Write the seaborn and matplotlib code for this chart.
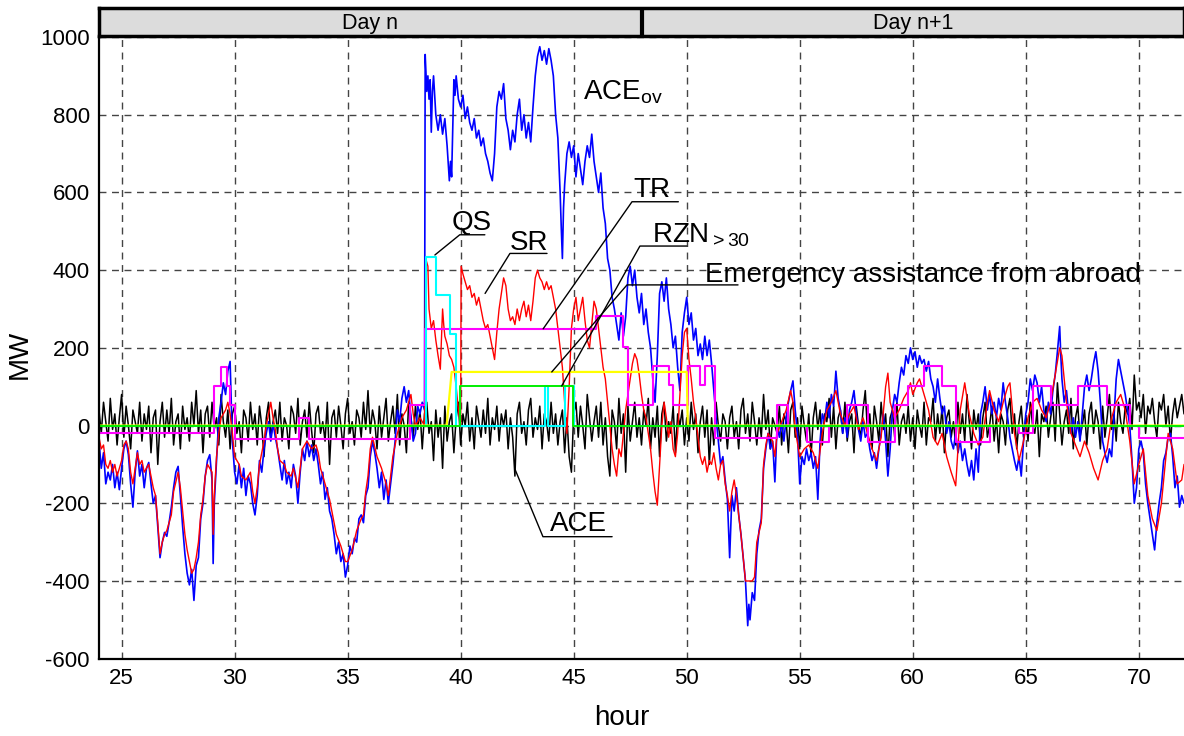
import numpy as np
import pandas as pd
import seaborn as sns
import matplotlib
matplotlib.use("Agg")
import matplotlib.pyplot as plt

# ---------------- data (hour, MW) ----------------

# ACE (black), one value every 0.1 h from hour 24 to 72
ace_mw = [
    40, -20, 60, 10, -40, 70, -10, 30, -50, 20, 80, -30, 50, 0, -60, 40, 10, -20, 60, -40,
    30, -10, 50, -70, 20, 40, -100, 10, 60, -30, 40, -20, 70, -50, 10, 30, -60, 50, -10, 20,
    -40, 60, 0, 90, -20, 40, -70, 30, 50, -30, 60, -10, 20, -50, 80, 10, -30, 40, -60, 30,
    50, -20, 10, -70, 40, 20, -40, 60, -10, 30, -50, 50, 0, -80, 20, 60, -30, 10, 40, -20,
    60, -40, 20, 0, -60, 50, 30, -20, 70, -50, 10, 40, -30, 60, -10, -70, 30, 50, -20, 10,
    -40, 60, -100, 20, 40, -30, 50, 0, -60, 30, 70, -20, 10, -50, 40, 20, -30, 60, -10, 90,
    -20, 40, 10, -60, 50, -30, 20, 70, -40, 10, 50, -20, 80, -50, 30, 0, -70, 60, 20, -30,
    50, -10, 40, -60, 30, 60, -20, 10, -90, 40, -30, 20, -110, 50, -40, 10, 30, -70, 20, 60,
    -50, 30, 0, 60, -40, 20, -60, 50, 10, -30, 40, -20, 70, -50, 20, -10, 50, -40, 30, 0,
    40, -60, 20, -30, -130, 30, 60, -20, 10, -50, 40, 70, -30, 20, -10, 50, -60, 30, 10, -40,
    60, -20, 30, -50, 10, 40, -70, 20, -80, -120, 30, 60, -30, 50, 0, -60, 80, 20, -40, 10,
    50, -30, 60, -50, 20, -80, -130, 40, 10, -60, 70, -20, 30, -120, 50, -40, 10, 60, -30, 20,
    -50, 40, 0, 70, -60, 20, -30, 50, -80, 30, 60, -40, 10, -20, 50, -70, 30, 0, 40, -50,
    20, -40, 60, -10, 30, -70, 10, 50, -30, 40, -100, 20, -50, 60, 0, -40, 30, 10, -60, 20,
    50, -30, 10, -60, 40, 70, -20, 30, -40, 60, 10, -50, 20, -30, 80, -10, 40, -60, 20, 0,
    -20, 50, -50, 30, 10, -70, 40, 60, -30, 20, -60, 50, 0, -40, 30, -80, 20, 60, -10, 40,
    -50, 30, 10, 70, -30, 50, -60, 20, 40, -20, 60, -40, 10, 30, -70, 50, 0, -30, 40, 90,
    -20, 30, -60, 50, 10, -40, 60, -10, 30, -80, 20, 40, -30, 60, -50, 10, 30, -20, 50, -40,
    20, -60, 40, 0, -30, 60, -50, 20, 10, 70, -40, 30, -20, 50, -70, 20, 40, -30, 10, -50,
    60, -20, 30, -40, 80, 10, -60, 40, -10, 30, -50, 20, 60, -30, 0, 50, -40, 20, -70, 30,
    10, -50, 40, 70, -20, 30, -60, 10, 50, -30, 20, -40, 60, 0, -20, 40, -80, 30, 10, 50,
    -30, 20, 60, -40, 110, 30, -50, 10, 40, -20, 70, -60, 20, 50, -30, 0, 40, -50, 30, 60,
    -20, 40, 10, -60, 50, -30, 20, 80, -10, 30, -40, 60, 10, -20, 50, 30, 70, -10, 130, 40,
    60, 20, 80, -20, 50, 30, 70, 10, -30, 60, 40, 80, 0, 50, -40, 30, 70, 20, 50, 80, 30,
]
ace_hour = np.round(np.linspace(24, 72, len(ace_mw)), 2)

# ACE_ov (blue)
ace_ov = [
    (24.0, -40), (24.1, -110), (24.2, -70), (24.3, -150), (24.4, -120), (24.5, -140), (24.6, -100),
    (24.7, -160), (24.8, -120), (24.9, -165), (25.0, -110), (25.1, -60), (25.2, -40), (25.3, -75),
    (25.4, -150), (25.5, -210), (25.6, -120), (25.7, -65), (25.8, -130), (25.9, -100), (26.0, -160),
    (26.1, -110), (26.2, -95), (26.3, -150), (26.4, -200), (26.5, -180), (26.6, -260), (26.7, -340),
    (26.8, -300), (26.9, -275), (27.0, -285), (27.1, -250), (27.2, -210), (27.3, -160), (27.4, -120),
    (27.5, -105), (27.6, -180), (27.7, -260), (27.8, -330), (27.9, -380), (28.0, -410), (28.1, -370),
    (28.2, -450), (28.3, -360), (28.4, -340), (28.5, -240), (28.6, -200), (28.7, -130), (28.8, -90),
    (28.9, -75), (29.0, -140), (29.05, -355), (29.1, -200), (29.2, -90), (29.3, 20), (29.4, 60),
    (29.5, 110), (29.6, 80), (29.7, 140), (29.8, 165), (29.85, 60), (29.9, -40), (30.0, -120),
    (30.1, -150), (30.2, -100), (30.3, -160), (30.4, -110), (30.5, -180), (30.6, -130), (30.7, -150),
    (30.8, -200), (30.9, -230), (31.0, -180), (31.1, -90), (31.2, -120), (31.3, -60), (31.4, -20),
    (31.5, 10), (31.6, -40), (31.7, 5), (31.8, -30), (31.9, -60), (32.0, -100), (32.1, -140),
    (32.2, -90), (32.3, -150), (32.4, -120), (32.5, -160), (32.6, -100), (32.7, -130), (32.8, -200),
    (32.9, -120), (33.0, -60), (33.1, -90), (33.2, -40), (33.3, -80), (33.4, -50), (33.5, -90),
    (33.6, -60), (33.7, -100), (33.8, -150), (33.9, -120), (34.0, -190), (34.1, -160), (34.2, -220),
    (34.3, -240), (34.4, -280), (34.5, -330), (34.6, -300), (34.7, -350), (34.8, -330), (34.9, -390),
    (35.0, -360), (35.1, -310), (35.2, -330), (35.3, -290), (35.4, -300), (35.5, -240), (35.6, -230),
    (35.7, -250), (35.8, -180), (35.9, -160), (36.0, -80), (36.1, -40), (36.2, -70), (36.3, -110),
    (36.4, -160), (36.5, -120), (36.6, -190), (36.7, -140), (36.8, -200), (36.9, -150), (37.0, -100),
    (37.1, -40), (37.2, 40), (37.3, 10), (37.4, 70), (37.5, 100), (37.6, 60), (37.7, 90), (37.8, 20),
    (37.9, -40), (38.0, -20), (38.1, 50), (38.2, 30), (38.3, 60), (38.4, 40), (38.43, 955),
    (38.5, 860), (38.55, 900), (38.6, 840), (38.65, 890), (38.7, 755), (38.75, 860), (38.8, 900),
    (38.85, 850), (38.9, 800), (39.0, 760), (39.1, 800), (39.2, 750), (39.3, 790), (39.4, 720),
    (39.5, 630), (39.55, 680), (39.6, 640), (39.7, 890), (39.75, 850), (39.8, 900), (39.9, 840),
    (40.0, 820), (40.1, 850), (40.2, 790), (40.3, 820), (40.4, 780), (40.5, 760), (40.6, 790),
    (40.7, 740), (40.8, 760), (40.9, 720), (41.0, 740), (41.1, 700), (41.2, 680), (41.3, 650),
    (41.4, 630), (41.5, 700), (41.6, 820), (41.7, 860), (41.8, 840), (41.9, 880), (42.0, 790),
    (42.1, 760), (42.2, 710), (42.3, 760), (42.4, 730), (42.5, 800), (42.6, 840), (42.7, 760),
    (42.8, 800), (42.9, 740), (43.0, 780), (43.1, 730), (43.2, 820), (43.3, 900), (43.4, 950),
    (43.5, 975), (43.6, 940), (43.7, 965), (43.8, 930), (43.9, 970), (44.0, 940), (44.1, 900),
    (44.2, 800), (44.3, 740), (44.4, 600), (44.45, 510), (44.5, 430), (44.55, 560), (44.6, 620),
    (44.7, 700), (44.8, 730), (44.9, 690), (45.0, 720), (45.1, 640), (45.2, 700), (45.3, 660),
    (45.4, 620), (45.5, 680), (45.6, 720), (45.7, 690), (45.8, 750), (45.9, 680), (46.0, 640),
    (46.1, 600), (46.2, 650), (46.3, 560), (46.4, 520), (46.5, 430), (46.6, 400), (46.7, 330),
    (46.8, 300), (46.9, 260), (47.0, 220), (47.1, 290), (47.2, 230), (47.3, 280), (47.4, 380),
    (47.5, 410), (47.6, 360), (47.7, 400), (47.8, 330), (47.9, 290), (48.0, 340), (48.1, 260),
    (48.2, 300), (48.3, 240), (48.4, 200), (48.5, 120), (48.6, 60), (48.7, 180), (48.8, 340),
    (48.9, 370), (49.0, 320), (49.1, 380), (49.2, 300), (49.3, 260), (49.4, 200), (49.5, 230),
    (49.6, 150), (49.7, 90), (49.8, 240), (49.9, 290), (50.0, 330), (50.1, 260), (50.2, 290),
    (50.3, 220), (50.4, 250), (50.5, 180), (50.6, 210), (50.7, 170), (50.8, 230), (50.9, 180),
    (51.0, 220), (51.1, 160), (51.2, 90), (51.3, 20), (51.4, -40), (51.5, -100), (51.6, -80),
    (51.7, -140), (51.8, -190), (51.9, -340), (52.0, -180), (52.1, -220), (52.2, -160), (52.3, -230),
    (52.4, -280), (52.5, -340), (52.6, -400), (52.7, -515), (52.75, -460), (52.8, -500), (52.9, -430),
    (53.0, -450), (53.1, -330), (53.2, -270), (53.3, -240), (53.4, -110), (53.5, -60), (53.6, -20),
    (53.7, -60), (53.8, -40), (53.9, -145), (54.0, 0), (54.1, -30), (54.2, 10), (54.3, -40),
    (54.4, 20), (54.5, 60), (54.6, 90), (54.7, 115), (54.8, 40), (54.9, -20), (55.0, -150),
    (55.1, -80), (55.2, -100), (55.3, -60), (55.4, -90), (55.5, -70), (55.6, -110), (55.7, -80),
    (55.8, -190), (55.9, -40), (56.0, 30), (56.1, 10), (56.2, 60), (56.3, 20), (56.4, 80),
    (56.5, 50), (56.6, 140), (56.7, 70), (56.8, 40), (56.9, -20), (57.0, 20), (57.1, -30),
    (57.2, 40), (57.3, 60), (57.4, 90), (57.5, 30), (57.6, -10), (57.7, -40), (57.8, 10),
    (57.9, -30), (58.0, -20), (58.1, -60), (58.2, -90), (58.3, -70), (58.4, -110), (58.5, -60),
    (58.6, -20), (58.7, 30), (58.8, -40), (58.9, -130), (59.0, -60), (59.1, 40), (59.2, 80),
    (59.3, 60), (59.4, 110), (59.5, 150), (59.6, 130), (59.7, 180), (59.8, 160), (59.9, 200),
    (60.0, 170), (60.1, 190), (60.2, 150), (60.3, 180), (60.4, 160), (60.5, 170), (60.6, 140),
    (60.7, 165), (60.8, 120), (60.9, 100), (61.0, 60), (61.1, 120), (61.2, 70), (61.3, 30),
    (61.4, 50), (61.5, -20), (61.6, 10), (61.7, -40), (61.8, -60), (61.9, -20), (62.0, -70),
    (62.1, -40), (62.2, -90), (62.3, -60), (62.4, -100), (62.5, -130), (62.6, -90), (62.7, -140),
    (62.8, -60), (62.9, -120), (63.0, 30), (63.1, 60), (63.2, 100), (63.3, 40), (63.4, 80),
    (63.5, 30), (63.6, 60), (63.7, 20), (63.8, 70), (63.9, 40), (64.0, 110), (64.1, 60),
    (64.2, 20), (64.3, -30), (64.4, -60), (64.5, -90), (64.6, -115), (64.7, -80), (64.8, -130),
    (64.9, -40), (65.0, 30), (65.1, 60), (65.2, 120), (65.3, 90), (65.4, 130), (65.5, 110),
    (65.6, 60), (65.7, 100), (65.8, 40), (65.9, 10), (66.0, 60), (66.1, 30), (66.2, 90),
    (66.3, 130), (66.4, 190), (66.5, 255), (66.55, 180), (66.6, 120), (66.7, 60), (66.8, 90),
    (66.9, 30), (67.0, -20), (67.1, 20), (67.2, -30), (67.3, 10), (67.4, -40), (67.5, 30),
    (67.6, 100), (67.7, 130), (67.8, 90), (67.9, 120), (68.0, 160), (68.1, 190), (68.2, 140),
    (68.3, 60), (68.4, -40), (68.5, -70), (68.6, -95), (68.7, -60), (68.8, -80), (68.9, 20),
    (69.0, 120), (69.1, 170), (69.2, 140), (69.3, 110), (69.4, 80), (69.5, 40), (69.6, 0),
    (69.7, -90), (69.8, -200), (69.9, -160), (70.0, -60), (70.1, -40), (70.2, -70), (70.3, -150),
    (70.4, -200), (70.5, -240), (70.6, -280), (70.7, -320), (70.8, -250), (70.9, -200), (71.0, -160),
    (71.1, -90), (71.2, -70), (71.3, -30), (71.4, -20), (71.5, -80), (71.6, -160), (71.7, -130),
    (71.8, -210), (71.9, -180), (72.0, -200),
]

# SR (red)
sr = [
    (24.0, -30), (24.1, -60), (24.2, -50), (24.3, -100), (24.4, -110), (24.5, -90), (24.6, -120),
    (24.7, -100), (24.8, -130), (24.9, -110), (25.0, -90), (25.1, -50), (25.2, -40), (25.3, -60),
    (25.4, -120), (25.5, -150), (25.6, -110), (25.7, -70), (25.8, -100), (25.9, -90), (26.0, -120),
    (26.2, -100), (26.3, -130), (26.4, -160), (26.5, -180), (26.6, -250), (26.7, -330), (26.8, -300),
    (26.9, -280), (27.0, -270), (27.2, -230), (27.3, -170), (27.5, -120), (27.6, -160), (27.7, -220),
    (27.8, -280), (27.9, -320), (28.0, -350), (28.1, -380), (28.2, -370), (28.3, -340), (28.4, -300),
    (28.5, -230), (28.6, -190), (28.7, -130), (28.8, -100), (29.0, -120), (29.05, -280), (29.1, -180),
    (29.2, -80), (29.3, -20), (29.4, 20), (29.6, 40), (29.7, 60), (29.8, 30), (29.9, -20),
    (30.0, -80), (30.2, -100), (30.3, -130), (30.5, -140), (30.7, -120), (30.8, -170), (30.9, -200),
    (31.0, -160), (31.1, -100), (31.3, -40), (31.4, 0), (31.5, 30), (31.6, 60), (31.7, 20),
    (31.8, -10), (31.9, -60), (32.0, -90), (32.2, -100), (32.3, -120), (32.5, -130), (32.6, -110),
    (32.8, -160), (32.9, -110), (33.0, -60), (33.2, -40), (33.4, -60), (33.6, -50), (33.7, -70),
    (33.8, -110), (34.0, -150), (34.2, -190), (34.3, -220), (34.5, -280), (34.7, -310), (34.9, -350),
    (35.0, -350), (35.2, -320), (35.4, -270), (35.6, -240), (35.7, -230), (35.8, -170), (35.9, -130),
    (36.0, -60), (36.1, -30), (36.3, -80), (36.5, -110), (36.7, -150), (36.8, -180), (36.9, -130),
    (37.0, -80), (37.2, -20), (37.4, 20), (37.6, 40), (37.8, 80), (37.9, 30), (38.0, 0),
    (38.2, 20), (38.4, 0), (38.45, 430), (38.55, 410), (38.6, 300), (38.7, 250), (38.8, 270),
    (38.9, 220), (39.0, 180), (39.1, 145), (39.2, 300), (39.25, 260), (39.3, 230), (39.4, 210),
    (39.5, 180), (39.6, 170), (39.7, 150), (39.8, 100), (39.9, 40), (40.0, 0), (40.02, 410),
    (40.1, 390), (40.2, 370), (40.3, 350), (40.4, 360), (40.5, 330), (40.6, 340), (40.7, 310),
    (40.8, 330), (40.9, 300), (41.0, 270), (41.1, 250), (41.2, 260), (41.3, 230), (41.4, 200),
    (41.5, 170), (41.6, 240), (41.7, 300), (41.8, 340), (41.9, 380), (42.0, 360), (42.1, 300),
    (42.2, 270), (42.3, 280), (42.4, 260), (42.5, 300), (42.6, 270), (42.7, 300), (42.8, 320),
    (42.9, 280), (43.0, 310), (43.1, 270), (43.2, 320), (43.3, 380), (43.4, 400), (43.5, 380),
    (43.6, 370), (43.7, 350), (43.8, 370), (43.9, 350), (44.0, 360), (44.1, 330), (44.2, 300),
    (44.3, 250), (44.4, 200), (44.5, 150), (44.6, 60), (44.7, -20), (44.8, 100), (44.9, 250),
    (45.0, 300), (45.1, 330), (45.2, 270), (45.3, 300), (45.4, 330), (45.5, 270), (45.6, 220),
    (45.7, 200), (45.8, 260), (45.9, 320), (46.0, 300), (46.1, 250), (46.2, 200), (46.3, 150),
    (46.4, 120), (46.5, 60), (46.6, 0), (46.7, -60), (46.8, -100), (46.9, -130), (47.0, -60),
    (47.1, -80), (47.2, -20), (47.3, 40), (47.4, 80), (47.5, 120), (47.6, 160), (47.7, 185),
    (47.8, 170), (47.9, 130), (48.0, 80), (48.1, 40), (48.2, 20), (48.3, -20), (48.4, -60),
    (48.5, -120), (48.6, -170), (48.7, -205), (48.8, -100), (48.9, 0), (49.0, 60), (49.1, 20),
    (49.2, -30), (49.3, 10), (49.4, -60), (49.5, -80), (49.6, -20), (49.7, 80), (49.8, 180),
    (49.9, 240), (50.0, 250), (50.1, 170), (50.2, 120), (50.3, 60), (50.4, 20), (50.5, -30),
    (50.6, -80), (50.7, -100), (50.8, -80), (50.9, -120), (51.0, -90), (51.1, -100), (51.2, -70),
    (51.3, -110), (51.4, -140), (51.5, -100), (51.6, -90), (51.7, -150), (51.8, -180), (51.9, -220),
    (52.0, -170), (52.1, -140), (52.2, -180), (52.3, -230), (52.4, -280), (52.5, -340), (52.6, -400),
    (52.9, -400), (53.0, -390), (53.1, -300), (53.3, -250), (53.4, -100), (53.5, -50), (53.6, -20),
    (53.8, -40), (53.9, -80), (54.0, -20), (54.2, 10), (54.4, 40), (54.6, 90), (54.7, 60),
    (54.8, -10), (55.0, -80), (55.2, -60), (55.4, -50), (55.6, -70), (55.8, -110), (56.0, -20),
    (56.2, 40), (56.4, 60), (56.6, 90), (56.8, 30), (57.0, 0), (57.2, 30), (57.4, 50),
    (57.6, -10), (57.8, 20), (58.0, -20), (58.2, -60), (58.4, -90), (58.6, -30), (58.8, 100),
    (58.9, 135), (59.0, 60), (59.2, 20), (59.4, 40), (59.6, 70), (59.8, 90), (59.9, 110),
    (60.0, 80), (60.2, 110), (60.3, 120), (60.5, 80), (60.7, 40), (60.9, -30), (61.1, -50),
    (61.3, -20), (61.5, -80), (61.7, -120), (61.9, -155), (62.0, -60), (62.1, 40), (62.3, 110),
    (62.5, 30), (62.7, -20), (62.9, -50), (63.1, -30), (63.3, 60), (63.4, 90), (63.6, 40),
    (63.8, 10), (64.0, 60), (64.2, 100), (64.3, 110), (64.5, -20), (64.7, -90), (64.9, -40),
    (65.1, 20), (65.3, 60), (65.5, 70), (65.7, 40), (65.9, 20), (66.1, 60), (66.3, 130),
    (66.5, 200), (66.6, 180), (66.8, 60), (67.0, -20), (67.2, -50), (67.4, -80), (67.6, -40),
    (67.8, -70), (68.0, -110), (68.2, -140), (68.4, -90), (68.6, -60), (68.8, 20), (69.0, 60),
    (69.2, 80), (69.4, 40), (69.6, -40), (69.8, -150), (70.0, -100), (70.2, -60), (70.4, -180),
    (70.6, -240), (70.8, -270), (71.0, -200), (71.2, -80), (71.3, -20), (71.5, -60), (71.7, -150),
    (71.9, -140), (72.0, -100),
]

# TR (magenta), step starts
tr_steps = [
    (24.0, -20), (29.1, 103), (29.4, 152), (29.65, 103), (29.8, 53), (30.0, -35), (32.85, 20),
    (33.3, -35), (37.75, 53), (38.43, 249), (46.0, 282), (47.2, 203), (47.4, 53), (48.5, 153),
    (49.2, 105), (49.4, 53), (50.05, 153), (50.6, 105), (50.8, 153), (51.25, -32), (54.0, 53),
    (54.5, 0), (55.3, -42), (56.3, 0), (57.1, 53), (58.0, -42), (59.2, 53), (59.8, 103),
    (60.5, 153), (61.3, 103), (61.9, -42), (63.4, 0), (64.7, -20), (65.3, 103), (66.1, 53),
    (67.3, 103), (68.6, 53), (69.6, 0), (70.0, -32), (72.0, -32),
]

# QS (cyan), step starts
qs_steps = [
    (24.0, 0), (38.45, 435), (38.9, 336), (39.55, 236), (39.8, 0), (43.75, 102), (43.85, 0),
    (44.6, 102), (45.0, 0), (72.0, 0),
]

# Emergency assistance from abroad (yellow)
emergency = [(24.0, 0), (39.38, 0), (39.6, 138), (50.0, 138), (50.05, 0), (72.0, 0)]

# RZN>30 (green)
rzn = [(24.0, 0), (39.96, 0), (39.96, 102), (44.97, 102), (44.97, 0), (72.0, 0)]

hour_ticks = [25, 30, 35, 40, 45, 50, 55, 60, 65, 70]
mw_ticks = [-600, -400, -200, 0, 200, 400, 600, 800, 1000]

# ---------------- style ----------------
sns.set_style("white")
plt.rcParams['font.family'] = ['Liberation Sans', 'DejaVu Sans']
plt.rcParams['mathtext.fontset'] = 'custom'
plt.rcParams['mathtext.rm'] = 'Liberation Sans'
plt.rcParams['mathtext.it'] = 'Liberation Sans:italic'
plt.rcParams['axes.unicode_minus'] = False
for key in ['text.color', 'axes.labelcolor', 'xtick.color', 'ytick.color']:
    plt.rcParams[key] = 'black'

W, H = 1184, 736
fig = plt.figure(figsize=(W / 100, H / 100), dpi=100)
left = 99 / W
ax = fig.add_axes([left, (H - 658.7) / H, 1 - left, (658.7 - 37) / H])


def draw(points, color, lw, steps=False):
    df = pd.DataFrame(points, columns=["hour", "MW"])
    sns.lineplot(data=df, x="hour", y="MW", ax=ax, color=color, linewidth=lw,
                 estimator=None, sort=False,
                 drawstyle="steps-post" if steps else "default")


draw(list(zip(ace_hour, ace_mw)), "black", 1.1)
draw(ace_ov, "#0000ff", 1.2)
draw(sr, "#ff0000", 1.0)
draw(tr_steps, "#ff00ff", 1.5, steps=True)
draw(qs_steps, "#00ffff", 1.5, steps=True)
draw(emergency, "#ffff00", 1.6)
draw(rzn, "#00ee00", 1.4)

ax.set_xlim(24, 72)
ax.set_ylim(-600, 1000)
ax.set_xticks(hour_ticks)
ax.set_yticks(mw_ticks)
ax.tick_params(labelsize=16, length=3, width=1, direction="out")
ax.grid(True, linestyle=(0, (5, 4)), color="#444444", linewidth=1.0)
ax.set_axisbelow(True)
for s in ["top", "right"]:
    ax.spines[s].set_visible(False)
for s in ["left", "bottom"]:
    ax.spines[s].set_linewidth(1.6)
    ax.spines[s].set_color("black")
ax.set_xlabel("hour", fontsize=20)
ax.set_ylabel("MW", fontsize=20)
ax.xaxis.set_label_coords(0.482, -0.075)
ax.yaxis.set_label_coords(-0.061, 0.49)

# ---------------- labels with leader lines ----------------
fs = 20
lk = dict(color="black", linewidth=1.0)
ax.text(45.40, 838, r"ACE$_{\mathrm{ov}}$", fontsize=fs, va="baseline", ha="left")

ax.text(39.60, 503, "QS", fontsize=fs, va="baseline", ha="left")
ax.plot([41.07, 39.96, 38.86], [491, 491, 439], **lk)

ax.text(42.18, 452, "SR", fontsize=fs, va="baseline", ha="left")
ax.plot([43.82, 42.18, 41.08], [443, 443, 340], **lk)

ax.text(47.64, 588, "TR", fontsize=fs, va="baseline", ha="left")
ax.plot([49.63, 47.58, 43.65], [576, 576, 249], **lk)

ax.text(48.45, 470, r"RZN$_{\mathrm{>30}}$", fontsize=fs, va="baseline", ha="left")
ax.plot([50.0, 47.93, 44.47], [462, 462, 102], **lk)

ax.text(50.8, 370, "Emergency assistance from abroad", fontsize=fs, va="baseline", ha="left")
ax.plot([52.27, 47.36, 44.03], [362, 362, 138], **lk)

ax.text(43.95, -271, "ACE", fontsize=fs, va="baseline", ha="left")
ax.plot([46.7, 43.64, 42.40], [-286, -286, -112], **lk)

# ---------------- day header strip ----------------
hx = fig.add_axes([left, 1 - 36 / H, 1 - left, 28 / H])
hx.set_xlim(24, 72)
hx.set_ylim(0, 1)
hx.set_facecolor("#dcdcdc")
hx.set_xticks([])
hx.set_yticks([])
for s in hx.spines.values():
    s.set_linewidth(2.5)
    s.set_color("black")
hx.axvline(48, color="black", linewidth=3)
hx.text(36, 0.45, "Day n", fontsize=15.5, ha="center", va="center")
hx.text(60, 0.45, "Day n+1", fontsize=15.5, ha="center", va="center")

fig.savefig("out.png", dpi=100)
